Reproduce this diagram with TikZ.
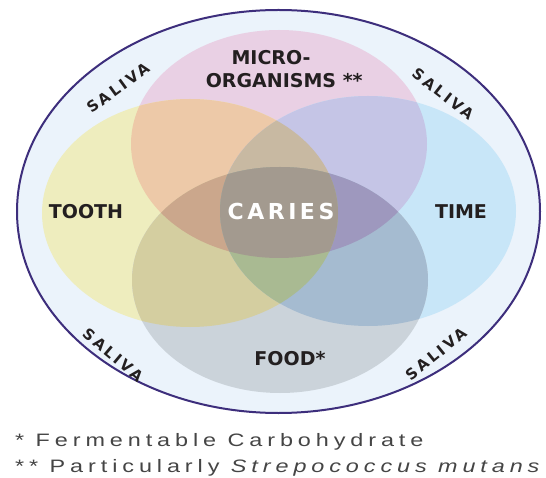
\documentclass[tikz,border=0pt]{standalone}
\usepackage{fontspec}
\usepackage{graphicx}
\usepackage{tikz}
\newfontfamily\labelfont{DejaVu Sans}
\newfontfamily\cariesfont[LetterSpace=16]{DejaVu Sans}
\newfontfamily\salivafont[LetterSpace=18]{DejaVu Sans}
\newfontfamily\notefont[LetterSpace=21]{Liberation Sans}
\definecolor{ringline}{HTML}{3D2E7C}
\definecolor{salivabg}{HTML}{EBF3FB}
\definecolor{microfill}{HTML}{E9D0E4}
\definecolor{toothfill}{HTML}{EEEDBE}
\definecolor{timefill}{HTML}{C8E6F8}
\definecolor{foodfill}{HTML}{CBD3DA}
\definecolor{mtfill}{HTML}{EDC9A8}
\definecolor{mifill}{HTML}{C5C5E6}
\definecolor{tffill}{HTML}{D4CEA0}
\definecolor{iffill}{HTML}{A5BBD0}
\definecolor{mtifill}{HTML}{C8B9A2}
\definecolor{mtffill}{HTML}{CBA78C}
\definecolor{miffill}{HTML}{9E98BE}
\definecolor{tiffill}{HTML}{A9BA92}
\definecolor{cariesfill}{HTML}{A39A8F}
\definecolor{textdark}{HTML}{231F20}
\definecolor{notegray}{HTML}{454545}
\newcommand{\microshape}{(279,144) ellipse (148 and 114)}
\newcommand{\toothshape}{(190,213) ellipse (148 and 114)}
\newcommand{\timeshape}{(368,211) ellipse (148 and 115)}
\newcommand{\foodshape}{(280,280) ellipse (148 and 113)}
\newcommand{\stretched}[1]{\scalebox{1.3}[1]{#1}}

\begin{document}
\begin{tikzpicture}[x=1pt,y=-1pt]
        \tikzstyle{factor} = [font=\labelfont\bfseries\fontsize{19}{23}\selectfont, text=textdark, align=center, inner sep=0pt]
        \tikzstyle{saliva} = [font=\salivafont\bfseries\fontsize{15}{17}\selectfont, text=textdark, inner sep=0pt]
        \tikzstyle{foot} = [font=\notefont\fontsize{18}{21}\selectfont, text=notegray, anchor=base west, inner sep=0pt]

        \fill[white] (0,0) rectangle (546,478);
        \useasboundingbox (0,0) rectangle (546,478);

        % Saliva ring
        \filldraw[fill=salivabg, draw=ringline, line width=2pt] (278.5,211.5) ellipse (261.5 and 201.5);

        % Four factors
        \fill[microfill] \microshape;
        \fill[toothfill] \toothshape;
        \fill[timefill] \timeshape;
        \fill[foodfill] \foodshape;

        % Overlaps of two
        \begin{scope} \clip \microshape; \fill[mtfill] \toothshape; \end{scope}
        \begin{scope} \clip \microshape; \fill[mifill] \timeshape; \end{scope}
        \begin{scope} \clip \toothshape; \fill[tffill] \foodshape; \end{scope}
        \begin{scope} \clip \timeshape; \fill[iffill] \foodshape; \end{scope}
        % Overlaps of three
        \begin{scope} \clip \microshape; \clip \toothshape; \fill[mtifill] \timeshape; \end{scope}
        \begin{scope} \clip \microshape; \clip \toothshape; \fill[mtffill] \foodshape; \end{scope}
        \begin{scope} \clip \microshape; \clip \timeshape; \fill[miffill] \foodshape; \end{scope}
        \begin{scope} \clip \toothshape; \clip \timeshape; \fill[tiffill] \foodshape; \end{scope}
        % All four
        \begin{scope} \clip \microshape; \clip \toothshape; \clip \timeshape; \fill[cariesfill] \foodshape; \end{scope}

        % Nodes
        \node[factor] (micro) at (271,69) {MICRO-\\ORGANISMS\rlap{\ **}};
        \node[factor] (tooth) at (86,212) {TOOTH};
        \node[factor] (time) at (461,212) {TIME};
        \node[factor] (food) at (285,359) {FOOD\rlap{*}};
        \node[factor, font=\cariesfont\bfseries\fontsize{22}{24}\selectfont, text=white] (caries) at (281,211) {CARIES};

        \node[saliva, rotate=36] (salivaNW) at (118,88) {SALIVA};
        \node[saliva, rotate=-38] (salivaNE) at (443,94) {SALIVA};
        \node[saliva, rotate=-40] (salivaSW) at (113,355) {SALIVA};
        \node[saliva, rotate=39] (salivaSE) at (436,354) {SALIVA};

        % Footnotes
        \node[foot] (fermnote) at (15,446) {\stretched{* Fermentable Carbohydrate}};
        \node[foot] (mutansnote) at (15,472) {\stretched{** Particularly \textit{Strepococcus mutans}}};
\end{tikzpicture}
\end{document}
